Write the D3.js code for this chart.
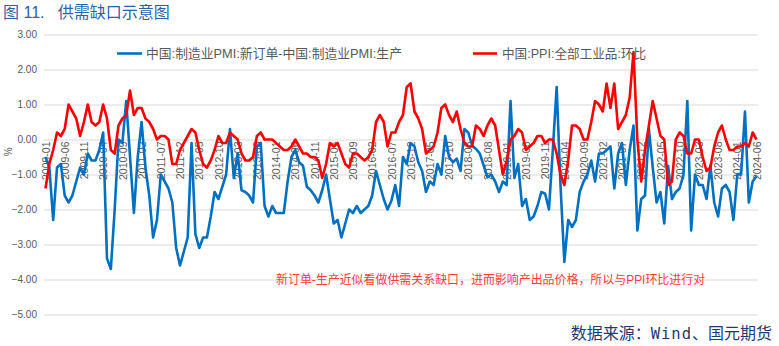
<!DOCTYPE html>
<html>
<head>
<meta charset="utf-8">
<script src="https://cdn.jsdelivr.net/npm/d3@7/dist/d3.min.js"></script>
<style>
  html, body { margin: 0; padding: 0; background: #ffffff; }
  svg { display: block; }
</style>
</head>
<body>
<svg id="chart" width="779" height="346"></svg>
<script>
// Monthly categories, 2009-01 .. 2024-06
const months = d3.timeMonth.range(new Date(2009, 0, 1), new Date(2024, 6, 1))
  .map(d3.timeFormat("%Y-%m"));

// 中国:制造业PMI:新订单 - 中国:制造业PMI:生产
const gapSeries = [
  -0.5, -0.8, -2.3, -0.8, -0.7, -1.6, -1.8, -1.6, -1.2, -0.8, -1.0, -0.4,
  -0.6, -0.6, -0.3, 0.2, -3.4, -3.7, -2.0, 0.0, -0.1, 1.1, -0.5, -2.1,
  -0.5, 0.5, -0.8, -1.6, -2.8, -2.3, -1.0, -1.2, -1.4, -1.8, -3.1, -3.6,
  -3.2, -2.8, -0.1, -2.7, -3.1, -2.8, -2.8, -2.2, -1.5, -1.7, -1.35, -1.0,
  0.3, -1.1, -0.4, -1.45, -1.5, -1.6, -1.8, -0.2, -0.1, -1.9, -2.2, -1.9,
  -2.1, -2.1, -2.1, -1.2, -0.5, -0.3, -0.65, -0.75, -1.35, -1.45, -1.6, -1.8,
  -1.45, -1.0, -1.7, -2.4, -2.3, -2.8, -2.4, -2.0, -2.1, -1.9, -2.1, -2.0,
  -1.9, -1.6, -0.9, -1.3, -1.7, -2.0, -1.75, -1.3, -1.9, -0.5, -0.7, -0.1,
  -0.2, -0.65, -0.9, -1.5, -1.2, -1.3, -0.7, -1.0, 0.1, -0.5, -0.65, -0.55,
  -0.9, 0.3, 0.2, -0.17, -0.27, -0.4, -0.74, -1.08, -1.0, -1.2, -1.5, -1.2,
  -1.3, 1.1, -1.1, -0.7, -1.9, -1.7, -2.3, -2.2, -1.9, -1.5, -1.55, -2.0,
  -0.3, 1.5, -1.3, -3.5, -2.3, -2.5, -2.3, -1.5, -1.2, -1.0, -0.6, -1.2,
  -0.4, -0.4, -0.3, -0.2, -1.4, -0.4, -0.1, -1.3, -0.3, 0.4, -2.6, -1.7,
  -1.6, 0.3, -0.8, -1.8, -1.5, -2.4, -0.75, -1.7, -1.5, -1.4, -1.0, 1.1,
  -2.6, -1.0, -1.3, -1.3, -1.7, -0.75, -1.8, -2.2, -1.4, -1.3, -1.5, -2.3,
  -1.0, -1.0, 0.8, -1.8, -1.2, -1.05
];

// 中国:PPI:全部工业品:环比
const ppiSeries = [
  -1.4, -0.7, -0.3, 0.2, 0.1, 0.3, 1.0, 0.8, 0.6, 0.1, 0.5, 1.0,
  0.5, 0.4, 0.5, 1.0, 0.6, -0.3, -0.4, 0.4, 0.6, 0.7, 1.4, 0.7,
  0.9, 0.9, 0.6, 0.5, 0.3, 0.0, 0.1, 0.1, 0.0, -0.7, -0.7, -0.3,
  -0.1, 0.1, 0.3, 0.2, -0.3, -0.7, -0.8, -0.6, -0.3, 0.1, -0.1, -0.1,
  0.2, 0.1, 0.0, -0.4, -0.6, -0.6, -0.5, 0.1, 0.2, 0.0, 0.0, 0.0,
  -0.1, -0.2, -0.3, -0.3, -0.2, 0.0, -0.2, -0.4, -0.4, -0.5, -0.5, -0.6,
  -1.1, -0.7, -0.1, -0.2, -0.1, -0.4, -0.7, -0.8, -0.4, -0.4, -0.5, -0.6,
  -0.5, -0.3, 0.5, 0.7, 0.5, -0.2, 0.2, 0.2, 0.5, 0.7, 1.5, 1.6,
  0.8, 0.6, 0.3, -0.4, -0.3, -0.2, 0.2, 0.9, 1.0, 0.7, 0.5, 0.8,
  0.3, -0.1, -0.2, -0.2, 0.4, 0.3, 0.1, 0.4, 0.6, 0.4, -0.3, -1.0,
  -0.6, 0.0, 0.1, 0.3, 0.2, -0.3, -0.2, -0.1, 0.1, 0.1, -0.1, 0.0,
  0.0, -0.4, -1.0, -1.3, -0.6, 0.4, 0.4, 0.3, 0.0, 0.0, 0.5, 1.1,
  1.0, 0.8, 1.6, 0.9, 1.6, 0.3, 0.5, 0.7, 1.2, 2.5, 0.0, -1.2,
  -0.3, 0.4, 1.1, 0.6, 0.1, 0.0, -1.3, -1.2, 0.0, 0.2, 0.1, -0.4,
  -0.4, 0.0, 0.0, -0.5, -0.9, -0.8, -0.2, 0.2, 0.4, 0.0, -0.3, -0.3,
  -0.2, -0.2, -0.1, -0.2, 0.2, 0.0
];

const yTickValues = [3, 2, 1, 0, -1, -2, -3, -4, -5];
const xLabelStep = 5;

const seriesNames = ["中国:制造业PMI:新订单-中国:制造业PMI:生产", "中国:PPI:全部工业品:环比"];
const seriesColors = ["#0070c0", "#ff0000"];
const titleText = "图 11.   供需缺口示意图";
const noteText = "新订单-生产近似看做供需关系缺口，进而影响产出品价格，所以与PPI环比进行对";

const svg = d3.select("#chart");
const fontUI = "'Liberation Sans', 'Noto Sans CJK SC', sans-serif";
const axisGrey = "#595959";

const x = d3.scalePoint().domain(months).range([45.5, 756.5]);
const y = d3.scaleLinear().domain([-5, 3]).range([314.5, 34.5]);

// title
svg.append("text")
  .attr("x", 3).attr("y", 18)
  .attr("font-family", fontUI).attr("font-size", 16)
  .attr("fill", "#2a62a8")
  .style("white-space", "pre")
  .text(titleText);

// horizontal gridlines + y tick labels
const yAxis = d3.axisLeft(y).tickValues(yTickValues).tickFormat(d3.format(".2f"))
  .tickSize(-(758 - 44)).tickPadding(7);
const yG = svg.append("g").attr("transform", "translate(44,0)").call(yAxis);
yG.select(".domain").remove();
yG.selectAll(".tick line").attr("stroke", "#d9d9d9").attr("stroke-width", 1);
yG.selectAll(".tick text")
  .attr("font-family", fontUI).attr("font-size", 10).attr("fill", axisGrey);

// unit label
svg.append("text")
  .attr("transform", `translate(12,${y(-0.35)}) rotate(-90)`)
  .attr("text-anchor", "middle")
  .attr("font-family", fontUI).attr("font-size", 10).attr("fill", axisGrey)
  .text("%");

// category labels along the zero line
const xAxis = d3.axisBottom(x)
  .tickValues(months.filter((d, i) => i % xLabelStep === 0))
  .tickSize(0).tickPadding(0);
const xG = svg.append("g").attr("transform", `translate(0,${y(0)})`).call(xAxis);
xG.select(".domain").remove();
xG.selectAll(".tick text")
  .attr("font-family", fontUI).attr("font-size", 10.5).attr("fill", axisGrey)
  .attr("text-anchor", "end")
  .attr("dy", "0.35em")
  .attr("transform", "translate(0,2) rotate(-90)")
  .attr("x", 0).attr("y", 0);

// series lines
const lineGen = d3.line()
  .x((d, i) => x(months[i]))
  .y(d => y(d));

[gapSeries, ppiSeries].forEach((values, k) => {
  svg.append("path")
    .datum(values)
    .attr("fill", "none")
    .attr("stroke", seriesColors[k])
    .attr("stroke-width", 2.6)
    .attr("stroke-linejoin", "round")
    .attr("d", lineGen);
});

// legend
const legendItems = [
  { x0: 117, x1: 142, tx: 146, size: 12.8 },
  { x0: 473, x1: 497, tx: 502, size: 12.6 }
];
legendItems.forEach((it, k) => {
  svg.append("line")
    .attr("x1", it.x0).attr("x2", it.x1)
    .attr("y1", 53.5).attr("y2", 53.5)
    .attr("stroke", seriesColors[k]).attr("stroke-width", 2.6);
  svg.append("text")
    .attr("x", it.tx).attr("y", 58)
    .attr("font-family", fontUI).attr("font-size", it.size).attr("fill", axisGrey)
    .text(seriesNames[k]);
});

// note
svg.append("text")
  .attr("x", 276).attr("y", 283.5)
  .attr("font-family", fontUI).attr("font-size", 11.95).attr("fill", "#ff3b3b")
  .text(noteText);

// source
const src = svg.append("text")
  .attr("x", 772).attr("y", 339)
  .attr("text-anchor", "end")
  .attr("font-family", "'Noto Sans CJK SC', sans-serif").attr("font-size", 16)
  .attr("fill", "#1f3a6a");
src.append("tspan").text("数据来源：");
src.append("tspan").attr("font-family", "'DejaVu Sans Mono', monospace").attr("font-size", 15.5)
  .attr("letter-spacing", 1).text("Wind");
src.append("tspan").text("、国元期货");
</script>
</body>
</html>
